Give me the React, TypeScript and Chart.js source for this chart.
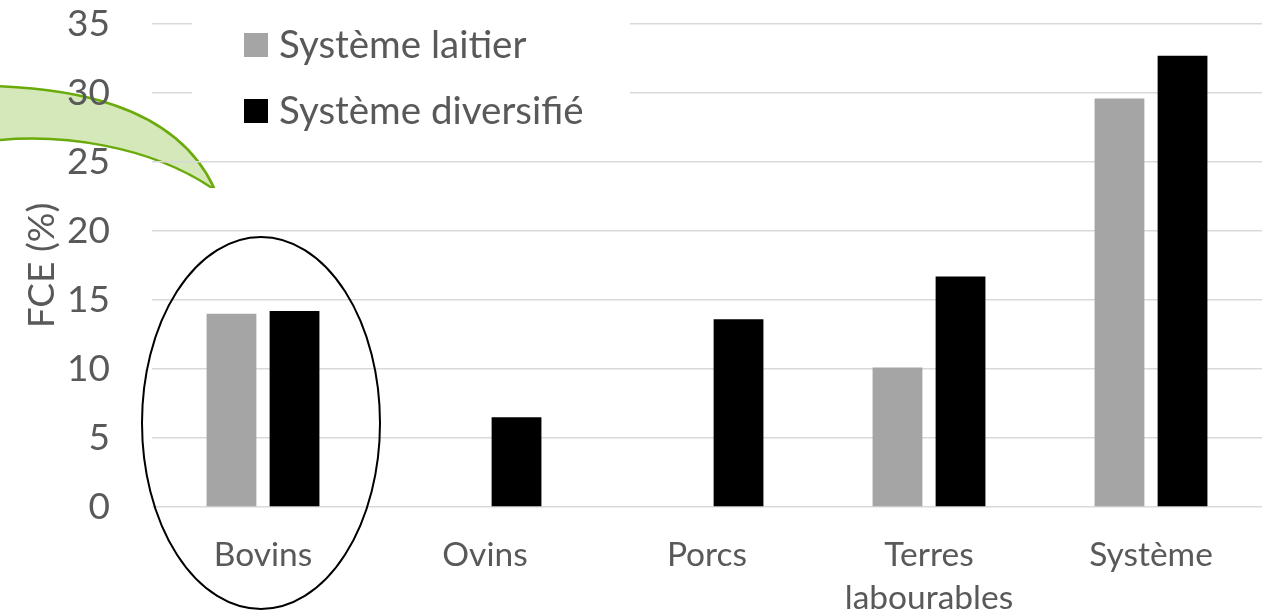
import React, { useEffect, useRef } from "react";
import { Chart, registerables } from "chart.js";

Chart.register(...registerables);

const categories: (string | string[])[] = ["Bovins", "Ovins", "Porcs", ["Terres", "labourables"], "Système"];
const seriesNames = ["Système laitier", "Système diversifié"];
const laitier: (number | null)[] = [14.0, null, null, 10.1, 29.6];
const diversifie: (number | null)[] = [14.2, 6.5, 13.6, 16.7, 32.7];
const yTicks = [0, 5, 10, 15, 20, 25, 30, 35];
const yTitle = "FCE (%)";

const FONT = "Lato, 'Open Sans', sans-serif";
const TEXT = "#595959";
const COLORS = ["#a5a5a5", "#000000"];
const FS = 37;
const XFS = 33.5;

const decorPlugin = {
  id: "decor",
  beforeDraw(chart: any) {
    const ctx = chart.ctx;
    ctx.save();
    ctx.beginPath();
    ctx.rect(0, 0, chart.width, 188);
    ctx.clip();
    ctx.beginPath();
    ctx.moveTo(-10, 86);
    ctx.bezierCurveTo(60, 88, 175, 100, 215, 190);
    ctx.bezierCurveTo(150, 145, 60, 133, -10, 141);
    ctx.closePath();
    ctx.fillStyle = "#d5e8b9";
    ctx.fill();
    ctx.lineWidth = 2.5;
    ctx.strokeStyle = "#6aaa0a";
    ctx.stroke();
    ctx.restore();
  },
  afterDraw(chart: any) {
    const ctx = chart.ctx;
    ctx.save();
    ctx.fillStyle = "#ffffff";
    ctx.fillRect(192, 10, 438, 125);
    const rows = [45, 111];
    seriesNames.forEach((name, i) => {
      ctx.fillStyle = COLORS[i];
      ctx.fillRect(244, rows[i] - 12, 24, 24);
      ctx.fillStyle = TEXT;
      ctx.font = `38.5px ${FONT}`;
      ctx.textBaseline = "middle";
      ctx.textAlign = "left";
      ctx.fillText(name, 279, rows[i] + 1);
    });
    ctx.beginPath();
    ctx.ellipse(261, 423, 119, 186, 0, 0, Math.PI * 2);
    ctx.lineWidth = 2;
    ctx.strokeStyle = "#000000";
    ctx.stroke();
    ctx.restore();
  },
};

export default function App() {
  const ref = useRef<HTMLCanvasElement>(null);
  useEffect(() => {
    document.body.style.margin = "0";
    const chart = new Chart(ref.current!, {
      type: "bar",
      data: {
        labels: categories as any,
        datasets: [
          { label: seriesNames[0], data: laitier, backgroundColor: COLORS[0] },
          { label: seriesNames[1], data: diversifie, backgroundColor: COLORS[1] },
        ],
      },
      options: {
        animation: false,
        responsive: false,
        maintainAspectRatio: false,
        layout: { padding: { left: 0, right: 13, top: 24, bottom: 0 } },
        datasets: { bar: { categoryPercentage: 0.568, barPercentage: 0.79 } },
        plugins: { legend: { display: false }, tooltip: { enabled: false } },
        scales: {
          x: {
            grid: { display: false },
            border: { display: false },
            ticks: { color: TEXT, font: { family: FONT, size: XFS, lineHeight: 1.28 }, padding: 19, maxRotation: 0, autoSkip: false },
            afterFit(scale: any) {
              scale.height = 107;
              scale.paddingLeft = 0;
              scale.paddingRight = 0;
            },
          },
          y: {
            min: 0,
            max: 35,
            afterBuildTicks(scale: any) { scale.ticks = yTicks.map((v) => ({ value: v })); },
            grid: { color: "#d9d9d9", lineWidth: 1.5, drawTicks: false },
            border: { display: false },
            ticks: { color: TEXT, font: { family: FONT, size: FS }, padding: 42 },
            title: { display: true, text: yTitle, color: TEXT, font: { family: FONT, size: FS }, padding: { top: 20, bottom: 0 } },
            afterFit(scale: any) {
              scale.width = 152;
              scale.paddingTop = 0;
              scale.paddingBottom = 0;
            },
          },
        },
      },
      plugins: [decorPlugin],
    });
    return () => chart.destroy();
  }, []);
  return <canvas ref={ref} width={1275} height={614} style={{ display: "block" }} />;
}
